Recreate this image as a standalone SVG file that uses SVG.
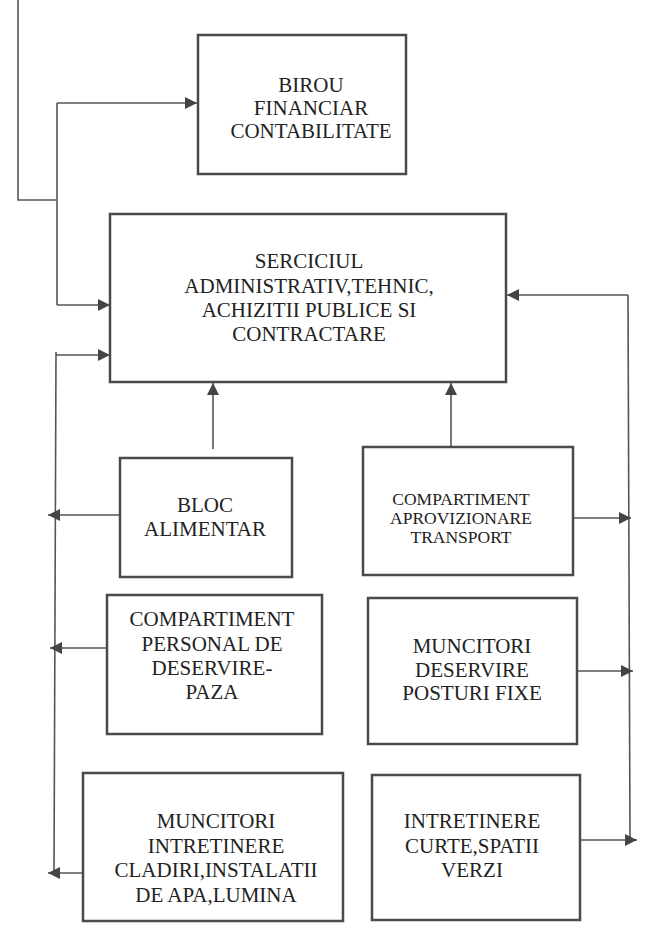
<svg xmlns="http://www.w3.org/2000/svg" width="651" height="934" viewBox="0 0 651 934">
<defs>
<style>
.box{fill:#fff;stroke:#4a4a4a;stroke-width:2.5}
.t{font-family:"Liberation Serif","Times New Roman",serif;font-size:21px;fill:#222;text-anchor:middle}
.s{font-size:17.5px}
.ln{fill:none;stroke:#555;stroke-width:1.6}
</style>
<marker id="ah" viewBox="0 0 10 10" refX="10" refY="5" markerWidth="14" markerHeight="12" markerUnits="userSpaceOnUse" orient="auto">
<path d="M0,0 L10,5 L0,10 Z" fill="#444"/>
</marker>
</defs>
<rect width="651" height="934" fill="#fff"/>
<g id="connectors">
<polyline class="ln" points="18,0 18,200 57,200"/>
<line class="ln" x1="57" y1="103" x2="57" y2="305"/>
<line class="ln" x1="57" y1="103" x2="197" y2="103" marker-end="url(#ah)"/>
<line class="ln" x1="57" y1="305" x2="110" y2="305" marker-end="url(#ah)"/>
<line class="ln" x1="56" y1="352" x2="54" y2="874"/>
<line class="ln" x1="56" y1="355" x2="110" y2="355" marker-end="url(#ah)"/>
<line class="ln" x1="213" y1="449" x2="213" y2="383" marker-end="url(#ah)"/>
<line class="ln" x1="451" y1="447" x2="451" y2="383" marker-end="url(#ah)"/>
<line class="ln" x1="120" y1="515" x2="48" y2="515" marker-end="url(#ah)"/>
<line class="ln" x1="107" y1="648" x2="50" y2="648" marker-end="url(#ah)"/>
<line class="ln" x1="82" y1="873" x2="48" y2="873" marker-end="url(#ah)"/>
<line class="ln" x1="628" y1="295" x2="630" y2="840"/>
<line class="ln" x1="628" y1="295" x2="507" y2="295" marker-end="url(#ah)"/>
<line class="ln" x1="573" y1="518" x2="631" y2="518" marker-end="url(#ah)"/>
<line class="ln" x1="577" y1="671" x2="633" y2="671" marker-end="url(#ah)"/>
<line class="ln" x1="580" y1="840" x2="637" y2="840" marker-end="url(#ah)"/>
</g>
<g id="birou">
<rect class="box" x="198" y="35" width="208" height="139"/>
<text class="t" x="311" y="92">BIROU</text>
<text class="t" x="311" y="115">FINANCIAR</text>
<text class="t" x="311" y="138">CONTABILITATE</text>
</g>
<g id="serviciul">
<rect class="box" x="110" y="214" width="396" height="168"/>
<text class="t" x="309" y="268">SERCICIUL</text>
<text class="t" x="309" y="293">ADMINISTRATIV,TEHNIC,</text>
<text class="t" x="309" y="317">ACHIZITII PUBLICE SI</text>
<text class="t" x="309" y="341">CONTRACTARE</text>
</g>
<g id="bloc">
<rect class="box" x="120" y="458" width="172" height="119"/>
<text class="t" x="205" y="512">BLOC</text>
<text class="t" x="205" y="536">ALIMENTAR</text>
</g>
<g id="aprovizionare">
<rect class="box" x="363" y="447" width="210" height="128"/>
<text class="t s" x="461" y="505">COMPARTIMENT</text>
<text class="t s" x="461" y="524">APROVIZIONARE</text>
<text class="t s" x="461" y="543">TRANSPORT</text>
</g>
<g id="personal">
<rect class="box" x="107" y="595" width="215" height="139"/>
<text class="t" x="212" y="626">COMPARTIMENT</text>
<text class="t" x="212" y="651">PERSONAL DE</text>
<text class="t" x="212" y="675">DESERVIRE-</text>
<text class="t" x="212" y="699">PAZA</text>
</g>
<g id="deservire">
<rect class="box" x="368" y="598" width="209" height="146"/>
<text class="t" x="472" y="653">MUNCITORI</text>
<text class="t" x="472" y="677">DESERVIRE</text>
<text class="t" x="472" y="700">POSTURI FIXE</text>
</g>
<g id="intretinere">
<rect class="box" x="83" y="773" width="260" height="148"/>
<text class="t" x="216" y="828">MUNCITORI</text>
<text class="t" x="216" y="853">INTRETINERE</text>
<text class="t" x="216" y="877">CLADIRI,INSTALATII</text>
<text class="t" x="216" y="902">DE APA,LUMINA</text>
</g>
<g id="curte">
<rect class="box" x="372" y="775" width="208" height="145"/>
<text class="t" x="472" y="828">INTRETINERE</text>
<text class="t" x="472" y="853">CURTE,SPATII</text>
<text class="t" x="472" y="877">VERZI</text>
</g>
</svg>
